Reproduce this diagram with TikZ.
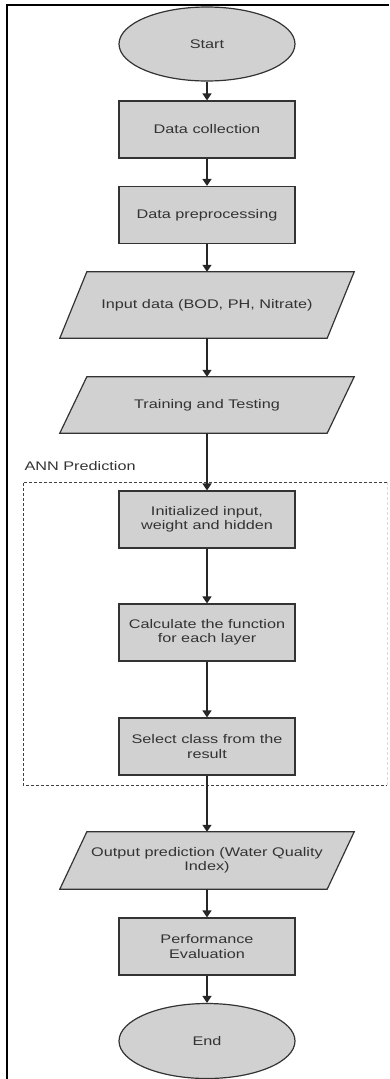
\documentclass[tikz,border=0pt]{standalone}
\usepackage{fontspec}
\setmainfont{Liberation Sans}[FakeStretch=1.3]
\usetikzlibrary{shapes.geometric,arrows.meta,backgrounds}

\begin{document}
\begin{tikzpicture}[x=1pt,y=-1pt,
	>={Triangle[width=9pt,length=7pt]},
	every node/.style={font=\fontsize{12.5}{14.5}\selectfont,text=black!80},
	term/.style={ellipse,draw=black!80,fill=black!18,line width=1.2pt,minimum width=176pt,minimum height=74pt,inner sep=0pt},
	proc/.style={rectangle,draw=black!80,fill=black!18,line width=1.2pt,minimum width=176pt,minimum height=57pt,align=center,inner sep=1pt},
	io/.style={rectangle,minimum width=267pt,align=center,inner sep=1pt},
	iobox/.style={draw=black!80,fill=black!18,line width=1.2pt},
	flow/.style={->,line width=1.4pt,black!85},
	grp/.style={black!75,line width=1pt,dash pattern=on 3pt off 2pt}]
	\useasboundingbox (0,0) rectangle (389,1079);
	% outer frame (cut at right and bottom)
	\draw[line width=2pt] (7,1079) -- (7,5) -- (389,5);
	% ANN group
	\draw[grp] (387,482) -- (23,482) -- (23,785) -- (387,785);
	\draw[grp,black!15] (387,482) -- (387,785);
	\node[anchor=base west] (annlbl) at (21,470) {ANN Prediction};
	% steps
	\node[term] (start) at (207,44) {Start};
	\node[proc] (collect) at (207,129.5) {Data collection};
	\node[proc] (prep) at (207,215) {Data preprocessing};
	\node[io,minimum height=66pt] (input) at (207,305) {Input data (BOD, PH, Nitrate)};
	\node[io,minimum height=56pt] (train) at (207,405) {Training and Testing};
	\node[proc] (init) at (207,519.5) {Initialized input,\\weight and hidden};
	\node[proc] (calc) at (207,632.5) {Calculate the function\\for each layer};
	\node[proc] (select) at (207,746.5) {Select class from the\\result};
	\node[io,minimum height=57pt] (output) at (207,860.5) {Output prediction (Water Quality\\Index)};
	\node[proc] (perf) at (207,946.5) {Performance\\Evaluation};
	\node[term,minimum height=75pt] (end) at (207,1041) {End};
	% slanted data boxes
	\begin{scope}[on background layer]
		\foreach \n in {input,train,output}
			\draw[iobox] ([xshift=-13.5pt]\n.south west) -- ([xshift=-13.5pt]\n.south east)
				-- ([xshift=13.5pt]\n.north east) -- ([xshift=13.5pt]\n.north west) -- cycle;
	\end{scope}
	% arrows
	\draw[flow] (start.south) -- (collect.north);
	\draw[flow] (collect.south) -- (prep.north);
	\draw[flow] (prep.south) -- (input.north);
	\draw[flow] (input.south) -- (train.north);
	\draw[flow] (train.south) -- (init.north);
	\draw[flow] (init.south) -- (calc.north);
	\draw[flow] (calc.south) -- (select.north);
	\draw[flow] (select.south) -- (output.north);
	\draw[flow] (output.south) -- (perf.north);
	\draw[flow] (perf.south) -- (end.north);
\end{tikzpicture}
\end{document}
